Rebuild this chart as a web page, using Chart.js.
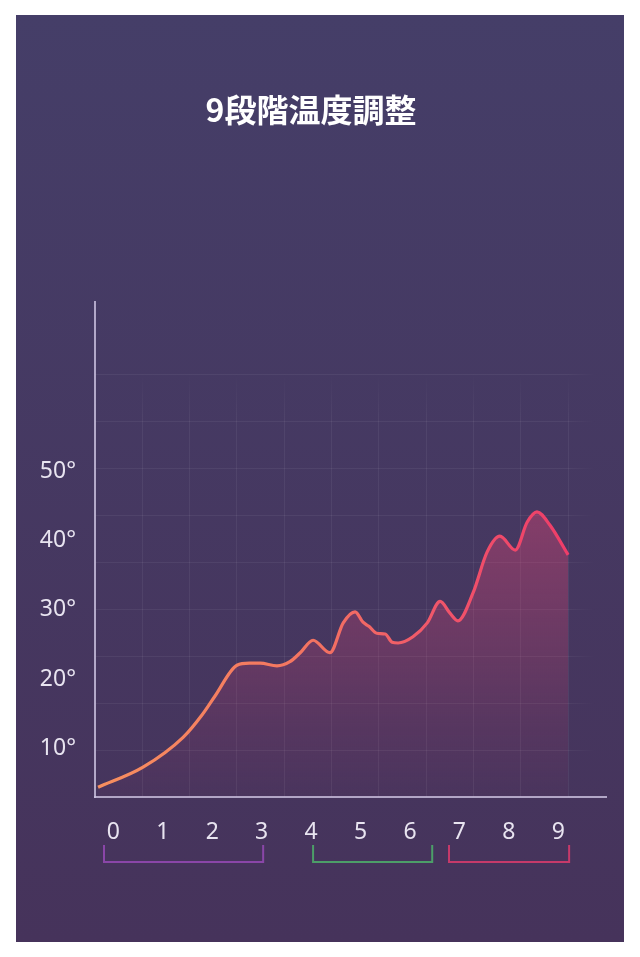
<!DOCTYPE html>
<html>
<head>
<meta charset="utf-8">
<script src="https://cdn.jsdelivr.net/npm/chart.js@4"></script>
<style>
  html, body { margin: 0; padding: 0; background: #ffffff; }
  #card {
    position: absolute; left: 16px; top: 15px; width: 608px; height: 927px;
    background: linear-gradient(#453e68, #46335b);
  }
  #tempChart { display: block; }
</style>
</head>
<body>
<div id="card"><canvas id="tempChart" width="608" height="927"></canvas></div>
<script>
// temperature curve (x = level, y = degrees)
const tempX = [-0.31, 0.60, 1.41, 1.80, 2.06, 2.50, 2.75, 2.97, 3.31, 3.57, 3.78,
    4.04, 4.38, 4.65, 4.89, 5.05, 5.17, 5.33, 5.50, 5.64, 5.76, 6.06, 6.35, 6.61, 6.81,
    6.97, 7.28, 7.56, 7.82, 8.13, 8.37, 8.57, 8.83, 9.20];
const tempY = [4.4, 7.3, 11.6, 14.9, 17.6, 22.0, 22.3, 22.3, 21.9, 22.5, 23.8,
    25.6, 23.8, 28.1, 29.7, 28.2, 27.6, 26.6, 26.5, 25.3, 25.2, 26.1, 28.1, 31.2, 29.5,
    28.4, 32.5, 38.3, 40.6, 38.6, 42.6, 44.1, 42.2, 37.9];

const levelTicks = [0, 1, 2, 3, 4, 5, 6, 7, 8, 9];
const degreeTicks = [10, 20, 30, 40, 50];

// level groups marked by brackets under the axis
const groupFrom = [-0.19, 4.04, 6.79];
const groupTo = [3.03, 6.45, 9.22];
const groupColors = ['#8a46a8', '#4c9e68', '#c63a6a'];

const titleText = '9段階温度調整';

const bracketPlugin = {
    id: 'brackets',
    afterDraw(chart) {
        const ctx = chart.ctx;
        const xs = chart.scales.x;
        const y0 = chart.chartArea.bottom + 48;
        const y1 = chart.chartArea.bottom + 65;
        ctx.save();
        ctx.lineWidth = 2;
        groupFrom.forEach((from, i) => {
            const a = xs.getPixelForValue(from);
            const b = xs.getPixelForValue(groupTo[i]);
            ctx.strokeStyle = groupColors[i];
            ctx.beginPath();
            ctx.moveTo(a, y0);
            ctx.lineTo(a, y1);
            ctx.lineTo(b, y1);
            ctx.lineTo(b, y0);
            ctx.stroke();
        });
        ctx.restore();
    }
};

function lineGradient(context) {
    const chart = context.chart;
    if (!chart.chartArea) return '#f37460';
    const xs = chart.scales.x;
    const g = chart.ctx.createLinearGradient(xs.getPixelForValue(tempX[0]), 0,
        xs.getPixelForValue(tempX[tempX.length - 1]), 0);
    g.addColorStop(0, '#f78f5f');
    g.addColorStop(0.45, '#f37461');
    g.addColorStop(0.72, '#f0566a');
    g.addColorStop(1, '#ee3d69');
    return g;
}

function fillGradient(context) {
    const chart = context.chart;
    const area = chart.chartArea;
    if (!area) return 'rgba(230,70,115,0.2)';
    const g = chart.ctx.createLinearGradient(0, area.bottom - 290, 0, area.bottom);
    g.addColorStop(0, 'rgba(232,70,118,0.4)');
    g.addColorStop(0.5, 'rgba(225,70,115,0.22)');
    g.addColorStop(1, 'rgba(200,60,110,0.03)');
    return g;
}

function vGridColor(context) {
    const chart = context.chart;
    const area = chart.chartArea;
    if (!area) return 'rgba(255,255,255,0.05)';
    const g = chart.ctx.createLinearGradient(0, area.top + 70, 0, area.top + 120);
    g.addColorStop(0, 'rgba(255,255,255,0)');
    g.addColorStop(1, 'rgba(255,255,255,0.06)');
    return g;
}

function hGridColor(context) {
    const chart = context.chart;
    const area = chart.chartArea;
    if (!area) return 'rgba(255,255,255,0.05)';
    const g = chart.ctx.createLinearGradient(area.right - 40, 0, area.right - 10, 0);
    g.addColorStop(0, 'rgba(255,255,255,0.06)');
    g.addColorStop(1, 'rgba(255,255,255,0)');
    return g;
}

const axisColor = 'rgba(205,196,226,0.8)';
const labelFont = { family: "'Noto Sans', sans-serif", size: 23 };

const ctx = document.getElementById('tempChart').getContext('2d');
const tempChart = new Chart(ctx, {
    type: 'line',
    data: {
        datasets: [{
            data: tempX.map((x, i) => ({ x: x, y: tempY[i] })),
            borderColor: lineGradient,
            backgroundColor: fillGradient,
            borderWidth: 3.2,
            pointRadius: 0,
            cubicInterpolationMode: 'monotone',
            fill: 'start'
        }]
    },
    options: {
        responsive: false,
        animation: false,
        layout: { padding: { left: 0, right: 18, top: 0, bottom: 85 } },
        plugins: {
            legend: { display: false },
            tooltip: { enabled: false },
            title: {
                display: true,
                text: titleText,
                color: '#ffffff',
                font: { family: "'Noto Sans CJK JP', sans-serif", size: 32, weight: 'bold' },
                padding: { top: 76, bottom: 173 }
            }
        },
        scales: {
            x: {
                type: 'linear',
                min: -0.372,
                max: 9.966,
                afterBuildTicks: s => { s.ticks = levelTicks.map(v => ({ value: v })); },
                afterFit: s => { s.height = 60; },
                grid: { display: false, drawTicks: false },
                border: { display: true, color: axisColor, width: 2 },
                ticks: { color: '#e8e4f0', font: labelFont, padding: 22, maxRotation: 0 }
            },
            xg: {
                type: 'linear',
                position: 'bottom',
                min: 0,
                max: 10.8,
                afterBuildTicks: s => { s.ticks = levelTicks.concat([10]).map(v => ({ value: v })); },
                afterFit: s => { s.height = 0; },
                grid: { color: vGridColor, lineWidth: 1, drawTicks: false },
                border: { display: false },
                ticks: { display: false }
            },
            y: {
                min: 3.0,
                max: 74.3,
                afterBuildTicks: s => { s.ticks = degreeTicks.map(v => ({ value: v })); },
                afterFit: s => { s.width = 79; },
                grid: { display: false, drawTicks: false },
                border: { display: true, color: axisColor, width: 2 },
                ticks: {
                    color: '#e8e4f0',
                    font: labelFont,
                    padding: 19,
                    callback: v => v + '°'
                }
            },
            yg: {
                type: 'linear',
                position: 'left',
                min: 0,
                max: 10.53,
                afterBuildTicks: s => { s.ticks = [1, 2, 3, 4, 5, 6, 7, 8, 9].map(v => ({ value: v })); },
                afterFit: s => { s.width = 0; },
                grid: { color: hGridColor, lineWidth: 1, drawTicks: false },
                border: { display: false },
                ticks: { display: false }
            }
        }
    },
    plugins: [bracketPlugin]
});
</script>
</body>
</html>
